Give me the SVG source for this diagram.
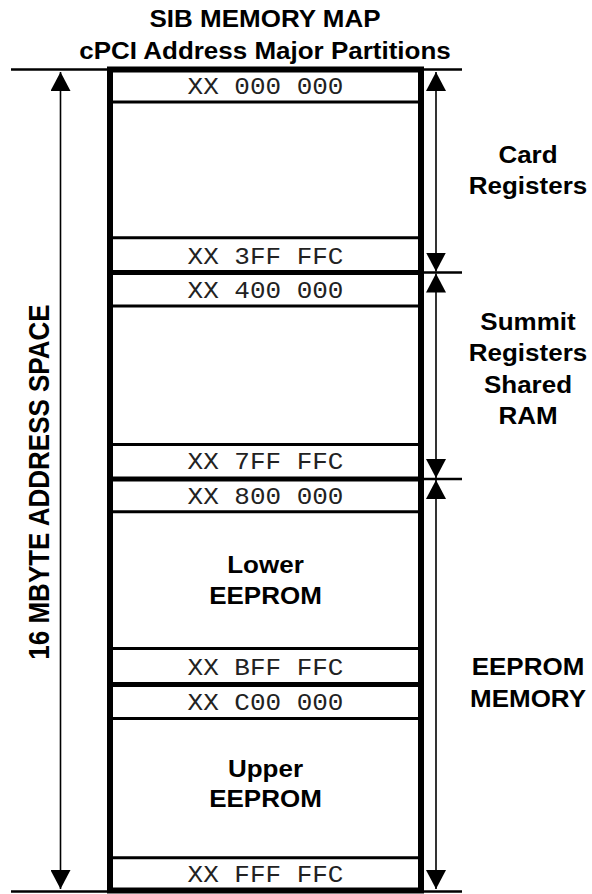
<svg xmlns="http://www.w3.org/2000/svg" width="592" height="894" viewBox="0 0 592 894">
<style>
.t{font-family:"Liberation Sans",Arial,sans-serif;font-weight:bold;font-size:23px;text-anchor:middle;fill:#000}
.big{font-size:26px}
.m{font-family:"Liberation Mono","Courier New",monospace;font-size:23px;text-anchor:middle;fill:#222}
.thin{stroke:#000;stroke-width:3;fill:none}
.thick{stroke:#000;stroke-width:5;fill:none}
.rule{stroke:#000;stroke-width:2.5;fill:none}
.dim{stroke:#000;stroke-width:1.6;fill:none;marker-start:url(#ah);marker-end:url(#ah)}
</style>
<defs>
<marker id="ah" viewBox="0 0 19 20" refX="19" refY="10" markerWidth="19" markerHeight="20" markerUnits="userSpaceOnUse" orient="auto-start-reverse">
<path d="M0,0 L19,10 L0,20 z" fill="#000"/>
</marker>
</defs>
<rect width="592" height="894" fill="#fff"/>
<g id="title" transform="translate(265,0) scale(1.13,1)">
<text class="t" x="0" y="27">SIB MEMORY MAP</text>
<text class="t" x="0" y="59">cPCI Address Major Partitions</text>
</g>
<g id="connectors">
<line class="rule" x1="11" y1="69.5" x2="462" y2="69.5"/>
<line class="rule" x1="11" y1="891.5" x2="462" y2="891.5"/>
<line class="rule" x1="424" y1="272.5" x2="462" y2="272.5" stroke-width="2"/>
<line class="rule" x1="424" y1="479" x2="462" y2="479" stroke-width="2"/>
<line class="dim" x1="60.5" y1="72" x2="60.5" y2="889"/>
<line class="dim" x1="436" y1="72" x2="436" y2="271.5"/>
<line class="dim" x1="436" y1="273.5" x2="436" y2="478"/>
<line class="dim" x1="436" y1="480" x2="436" y2="889"/>
</g>
<g id="map">
<rect x="110" y="69.5" width="311" height="821" fill="#fff" stroke="#000" stroke-width="6"/>
<line class="thin" x1="110" y1="102" x2="421" y2="102"/>
<line class="thin" x1="110" y1="237.7" x2="421" y2="237.7"/>
<line class="thick" x1="110" y1="272.5" x2="421" y2="272.5"/>
<line class="thin" x1="110" y1="306" x2="421" y2="306"/>
<line class="thin" x1="110" y1="444.5" x2="421" y2="444.5"/>
<line class="thick" x1="110" y1="479" x2="421" y2="479"/>
<line class="thin" x1="110" y1="511.7" x2="421" y2="511.7"/>
<line class="thin" x1="110" y1="648.5" x2="421" y2="648.5"/>
<line class="thick" x1="110" y1="684.5" x2="421" y2="684.5"/>
<line class="thin" x1="110" y1="718.5" x2="421" y2="718.5"/>
<line class="thin" x1="110" y1="857.7" x2="421" y2="857.7"/>
</g>
<g id="addresses" transform="translate(265.5,0) scale(1.13,1)">
<text id="a-000000" class="m" x="0" y="94">XX 000 000</text>
<text id="a-3fffffc" class="m" x="0" y="264">XX 3FF FFC</text>
<text id="a-400000" class="m" x="0" y="298">XX 400 000</text>
<text id="a-7fffffc" class="m" x="0" y="469">XX 7FF FFC</text>
<text id="a-800000" class="m" x="0" y="504">XX 800 000</text>
<text id="a-bfffffc" class="m" x="0" y="675">XX BFF FFC</text>
<text id="a-c00000" class="m" x="0" y="710">XX C00 000</text>
<text id="a-ffffffc" class="m" x="0" y="882">XX FFF FFC</text>
</g>
<g id="lower-eeprom" transform="translate(265.5,0) scale(1.13,1)">
<text class="t" x="0" y="573">Lower</text>
<text class="t" x="0" y="604">EEPROM</text>
</g>
<g id="upper-eeprom" transform="translate(265.5,0) scale(1.13,1)">
<text class="t" x="0" y="777">Upper</text>
<text class="t" x="0" y="807">EEPROM</text>
</g>
<g id="card-registers" transform="translate(528,0) scale(1.13,1)">
<text class="t" x="0" y="163">Card</text>
<text class="t" x="0" y="194">Registers</text>
</g>
<g id="summit" transform="translate(528,0) scale(1.13,1)">
<text class="t" x="0" y="330">Summit</text>
<text class="t" x="0" y="361.5">Registers</text>
<text class="t" x="0" y="393">Shared</text>
<text class="t" x="0" y="424.5">RAM</text>
</g>
<g id="eeprom-memory" transform="translate(528,0) scale(1.13,1)">
<text class="t" x="0" y="675">EEPROM</text>
<text class="t" x="0" y="707">MEMORY</text>
</g>
<g id="address-space" transform="translate(49,482) scale(1.13,1) rotate(-90)">
<text class="t big" x="0" y="0">16 MBYTE ADDRESS SPACE</text>
</g>
</svg>
